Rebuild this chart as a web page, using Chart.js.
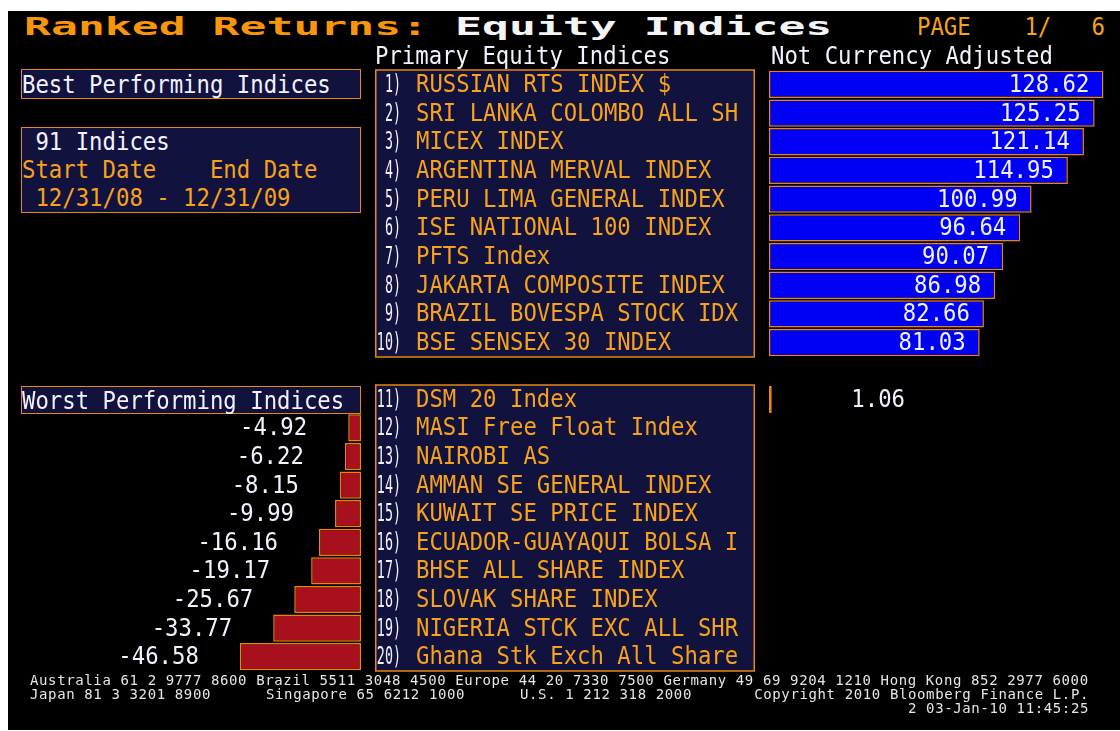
<!DOCTYPE html>
<html>
<head>
<meta charset="utf-8">
<script src="https://cdn.jsdelivr.net/npm/chart.js@4/dist/chart.umd.min.js"></script>
<style>
  body { margin: 0; width: 1120px; height: 731px; background: #fff; position: relative; overflow: hidden; }
  #screen { position: absolute; left: 8px; top: 11px; width: 1112px; height: 719px; background: #000; }
  canvas { position: absolute; }
  .m { position: absolute; white-space: pre; font: 22.3px 'DejaVu Sans Mono', monospace; line-height: 22px;
       transform: scaleY(1.1); transform-origin: 0 50%; color: #f2f2ff; }
  .or { color: #f7a21b; }
  .box { position: absolute; box-sizing: border-box; background: #12123f; border: 1.5px solid #e8870e; }
  .title { position: absolute; left: 24px; top: 14px; white-space: pre; font: bold 25px 'DejaVu Sans Mono', monospace;
           line-height: 25px; transform: scaleX(1.79); transform-origin: 0 0; }
  .ft { position: absolute; white-space: pre; font: 14px 'DejaVu Sans Mono', monospace; line-height: 14px;
        letter-spacing: 0.62px; color: #e6e6e6; }
</style>
</head>
<body>
<div id="screen"></div>

<canvas id="bestChart" width="745" height="310" style="left:375px;top:60px"></canvas>
<canvas id="worstChart" width="745" height="300" style="left:375px;top:375px"></canvas>
<canvas id="lossChart" width="356" height="300" style="left:8px;top:375px"></canvas>

<div class="title"><span style="color:#f7950c">Ranked Returns:</span><span style="color:#f4f4f4"> Equity Indices</span></div>
<div class="m or" style="left:917px;top:15px">PAGE    1/   6</div>
<div class="m" style="left:375px;top:44px">Primary Equity Indices</div>
<div class="m" style="left:771px;top:44px">Not Currency Adjusted</div>

<div class="box" style="left:21px;top:69px;width:340px;height:30px"></div>
<div class="m" style="left:22px;top:73px">Best Performing Indices</div>

<div class="box" style="left:21px;top:127px;width:340px;height:86px"></div>
<div class="m" style="left:22px;top:130px"> 91 Indices</div>
<div class="m or" style="left:22px;top:158px">Start Date    End Date</div>
<div class="m or" style="left:22px;top:186px"> 12/31/08 - 12/31/09</div>

<div class="box" style="left:21px;top:386px;width:340px;height:28px"></div>
<div class="m" style="left:22px;top:389px">Worst Performing Indices</div>

<div class="ft" style="left:30px;top:673px">Australia 61 2 9777 8600 Brazil 5511 3048 4500 Europe 44 20 7330 7500 Germany 49 69 9204 1210 Hong Kong 852 2977 6000</div>
<div class="ft" style="left:30px;top:687px">Japan 81 3 3201 8900</div>
<div class="ft" style="left:266px;top:687px">Singapore 65 6212 1000</div>
<div class="ft" style="left:520px;top:687px">U.S. 1 212 318 2000</div>
<div class="ft" style="right:31px;top:687px">Copyright 2010 Bloomberg Finance L.P.</div>
<div class="ft" style="right:31px;top:701px">2 03-Jan-10 11:45:25</div>

<script>
// ranked returns, 12/31/08 - 12/31/09, not currency adjusted
const bestNames = ['RUSSIAN RTS INDEX $', 'SRI LANKA COLOMBO ALL SH', 'MICEX INDEX', 'ARGENTINA MERVAL INDEX',
  'PERU LIMA GENERAL INDEX', 'ISE NATIONAL 100 INDEX', 'PFTS Index', 'JAKARTA COMPOSITE INDEX',
  'BRAZIL BOVESPA STOCK IDX', 'BSE SENSEX 30 INDEX'];
const bestReturns = [128.62, 125.25, 121.14, 114.95, 100.99, 96.64, 90.07, 86.98, 82.66, 81.03];

const worstNames = ['DSM 20 Index', 'MASI Free Float Index', 'NAIROBI AS', 'AMMAN SE GENERAL INDEX',
  'KUWAIT SE PRICE INDEX', 'ECUADOR-GUAYAQUI BOLSA I', 'BHSE ALL SHARE INDEX', 'SLOVAK SHARE INDEX',
  'NIGERIA STCK EXC ALL SHR', 'Ghana Stk Exch All Share'];
const worstReturns = [1.06, -4.92, -6.22, -8.15, -9.99, -16.16, -19.17, -25.67, -33.77, -46.58];

const NAVY = '#12123f';
const ORANGE = '#e8870e';
const ORANGE_TXT = '#f7a21b';
const WHITE = '#f2f2ff';
const PX_PER_UNIT = 2.6;

function monoText(ctx, str, x, y, align, color, sx) {
  ctx.save();
  ctx.translate(x, y);
  ctx.scale(sx || 1, 1.1);
  ctx.font = "22.3px 'DejaVu Sans Mono', monospace";
  ctx.textAlign = align;
  ctx.textBaseline = 'middle';
  ctx.fillStyle = color;
  ctx.fillText(str, 0, 1);
  ctx.restore();
}

// draws the numbered name box and the value labels
const rankPlugin = {
  id: 'rank',
  beforeDatasetsDraw(chart, args, opts) {
    if (!opts.names) return;
    const ctx = chart.ctx, a = chart.chartArea;
    ctx.save();
    ctx.fillStyle = NAVY;
    ctx.fillRect(0.75, a.top, 378.5, a.bottom - a.top);
    ctx.strokeStyle = ORANGE;
    ctx.lineWidth = 1.5;
    ctx.strokeRect(0.75, a.top, 378.5, a.bottom - a.top);
    ctx.restore();
    const ys = chart.scales.y;
    chart.data.labels.forEach((n, i) => {
      const py = ys.getPixelForValue(i);
      monoText(ctx, (opts.first + i) + ')', 26, py, 'right', WHITE, 0.6);
      monoText(ctx, n, 41, py, 'left', ORANGE_TXT);
    });
  },
  afterDatasetsDraw(chart) {
    const ctx = chart.ctx;
    const vals = chart.data.datasets[0].data;
    chart.getDatasetMeta(0).data.forEach((bar, i) => {
      const v = vals[i];
      if (v == null) return;
      let x;
      if (v >= 0) x = Math.max(bar.x - 14, chart.chartArea.left + 136);
      else x = bar.x - 41;
      monoText(ctx, v.toFixed(2), x, bar.y, 'right', WHITE);
    });
  }
};

function rankChart(id, labels, data, color, xMin, xMax, padding, opts) {
  return new Chart(document.getElementById(id), {
    type: 'bar',
    data: {
      labels: labels,
      datasets: [{
        data: data,
        backgroundColor: color,
        borderColor: ORANGE,
        borderWidth: 1.5,
        borderSkipped: false,
        categoryPercentage: 1,
        barPercentage: 0.95
      }]
    },
    options: {
      indexAxis: 'y',
      responsive: false,
      animation: false,
      devicePixelRatio: 1,
      events: [],
      layout: { padding: padding },
      scales: {
        x: { display: false, min: xMin, max: xMax },
        y: { display: false }
      },
      plugins: {
        legend: { display: false },
        tooltip: { enabled: false },
        rank: opts
      }
    },
    plugins: [rankPlugin]
  });
}

rankChart('bestChart', bestNames, bestReturns, '#0000f5',
  0, 351 / PX_PER_UNIT, { left: 394, top: 10, bottom: 13, right: 0 }, { names: true, first: 1 });

rankChart('worstChart', worstNames, worstReturns.map(v => v >= 0 ? v : null), '#0000f5',
  0, 351 / PX_PER_UNIT, { left: 394, top: 10, bottom: 4, right: 0 }, { names: true, first: 11 });

rankChart('lossChart', worstNames, worstReturns.map(v => v < 0 ? v : null), '#a8101e',
  -353 / PX_PER_UNIT, 0, { left: 0, top: 10, bottom: 4, right: 3 }, { names: false });
</script>
</body>
</html>
